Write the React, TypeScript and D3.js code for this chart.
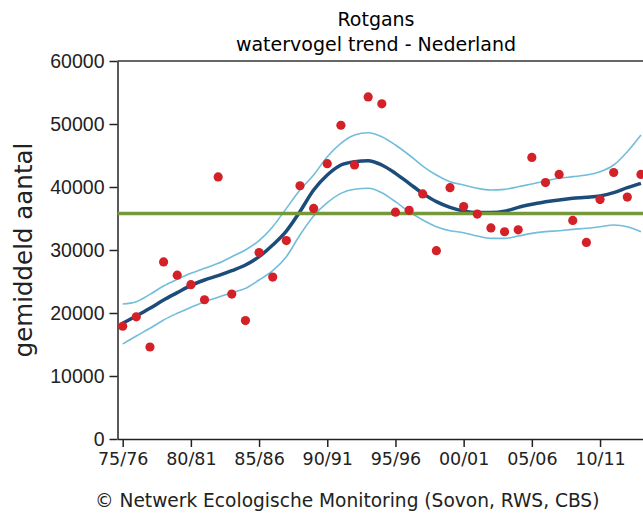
import React, { useEffect, useRef } from "react";
import * as d3 from "d3";

// seasons 1975/76 .. 2013/14, index 0..38
const seasonIndex = d3.range(0, 39);
const xTickIndex = [0, 5, 10, 15, 20, 25, 30, 35];
const xTickLabels = ["75/76", "80/81", "85/86", "90/91", "95/96", "00/01", "05/06", "10/11"];
const yTicks = [0, 10000, 20000, 30000, 40000, 50000, 60000];

const counts = [
  17900, 19400, 14600, 28100, 26000, 24500, 22100, 41600, 23000, 18800,
  29600, 25700, 31500, 40200, 36600, 43700, 49800, 43500, 54300, 53200,
  36000, 36300, 38900, 29900, 39900, 36900, 35700, 33500, 32900, 33200,
  44700, 40700, 42000, 34700, 31200, 38000, 42300, 38400, 42000,
];

const trend = [
  18360, 19520, 20740, 22060, 23230, 24390, 25240, 25930, 26720, 27620,
  28940, 30790, 33000, 36100, 39520, 41900, 43490, 44020, 44180, 43490,
  42170, 40580, 38990, 37670, 36770, 36200, 35950, 35950, 36150, 36770,
  37250, 37670, 37940, 38200, 38360, 38570, 39100, 39890, 40580,
];

const upper = [
  21430, 21800, 22960, 24290, 25340, 26300, 27090, 27880, 28940, 30000,
  31480, 33700, 36610, 39520, 41900, 44810, 46930, 48250, 48620, 47990,
  46670, 45080, 43330, 41900, 40840, 40320, 39790, 39520, 39630, 40050,
  40480, 40950, 41380, 41640, 41900, 42430, 43490, 45600, 48250,
];

const lower = [
  15080, 16350, 17570, 18890, 19950, 20900, 21800, 22490, 23230, 23910,
  25240, 26720, 28940, 32380, 35400, 37510, 38990, 39630, 39790, 39100,
  37670, 36080, 34760, 33700, 33060, 32750, 32220, 31850, 31850, 32220,
  32640, 32910, 33060, 33280, 33440, 33700, 33970, 33700, 32910,
];

const average = 35800;

const W = 643;
const H = 516;

const Chart = () => {
  const ref = useRef(null);

  useEffect(() => {
    const svg = d3.select(ref.current);
    svg.selectAll("*").remove();

    const x = d3.scaleLinear().domain([-0.38, 38.15]).range([117.5, 643]);
    const y = d3.scaleLinear().domain([0, 60000]).range([439, 61]);
    const wide = "'DejaVu Sans', Verdana, sans-serif";
    const arial = "'Liberation Sans', Arial, sans-serif";

    // titles
    svg.append("text")
      .attr("x", 376).attr("y", 26)
      .attr("text-anchor", "middle")
      .style("font-family", wide).style("font-size", "19px")
      .text("Rotgans");
    svg.append("text")
      .attr("x", 376).attr("y", 51)
      .attr("text-anchor", "middle")
      .style("font-family", wide).style("font-size", "19px")
      .text("watervogel trend - Nederland");

    // y label
    svg.append("text")
      .attr("transform", `translate(32 ${250}) rotate(-90)`)
      .attr("text-anchor", "middle")
      .style("font-family", wide).style("font-size", "24.5px")
      .style("fill", "#222")
      .text("gemiddeld aantal");

    // footer
    svg.append("text")
      .attr("x", 95).attr("y", 507)
      .style("font-family", wide).style("font-size", "18.6px")
      .style("fill", "#222")
      .text("© Netwerk Ecologische Monitoring (Sovon, RWS, CBS)");

    // frame top line
    svg.append("line")
      .attr("x1", x.range()[0]).attr("x2", W)
      .attr("y1", y(60000)).attr("y2", y(60000))
      .attr("stroke", "#333").attr("stroke-width", 1.5);

    // y axis
    const yAxis = svg.append("g")
      .attr("transform", `translate(${x.range()[0]},0)`)
      .call(
        d3.axisLeft(y)
          .tickValues(yTicks)
          .tickFormat(d3.format("d"))
          .tickSize(8).tickPadding(5).tickSizeOuter(0)
      );
    yAxis.select(".domain").attr("stroke", "#222").attr("stroke-width", 1.5);
    yAxis.selectAll(".tick line").attr("stroke", "#222").attr("stroke-width", 1.5);
    yAxis.selectAll("text")
      .style("font-family", arial).style("font-size", "19.5px").style("fill", "#222");

    // x axis
    const xAxis = svg.append("g")
      .attr("transform", `translate(0,${y(0)})`)
      .call(
        d3.axisBottom(x)
          .tickValues(xTickIndex)
          .tickFormat((d, i) => xTickLabels[i])
          .tickSize(8).tickPadding(6).tickSizeOuter(0)
      );
    xAxis.select(".domain").attr("stroke", "#222").attr("stroke-width", 1.5);
    xAxis.selectAll(".tick line").attr("stroke", "#222").attr("stroke-width", 1.5);
    xAxis.selectAll("text")
      .style("font-family", wide).style("font-size", "17.5px").style("fill", "#222");

    const line = (vals) =>
      d3.line()
        .x((d, i) => x(seasonIndex[i]))
        .y(d => y(d))
        .curve(d3.curveMonotoneX)(vals);

    // confidence band lines
    [upper, lower].forEach(vals => {
      svg.append("path")
        .attr("d", line(vals))
        .attr("fill", "none")
        .attr("stroke", "#72bddb")
        .attr("stroke-width", 1.6);
    });

    // trend
    svg.append("path")
      .attr("d", line(trend))
      .attr("fill", "none")
      .attr("stroke", "#1c4d7a")
      .attr("stroke-width", 3.5);

    // long-term average
    svg.append("line")
      .attr("x1", x.range()[0]).attr("x2", W)
      .attr("y1", y(average)).attr("y2", y(average))
      .attr("stroke", "#74983a").attr("stroke-width", 3.5);

    // counts
    svg.selectAll("circle.count")
      .data(counts)
      .enter()
      .append("circle")
      .attr("class", "count")
      .attr("cx", (d, i) => x(seasonIndex[i]))
      .attr("cy", d => y(d))
      .attr("r", 4.6)
      .attr("fill", "#d42027");
  }, []);

  return (
    <svg
      ref={ref}
      width={W}
      height={H}
      style={{ position: "absolute", left: 0, top: 0, background: "#fff" }}
    />
  );
};

export default function App() {
  return <Chart />;
}
